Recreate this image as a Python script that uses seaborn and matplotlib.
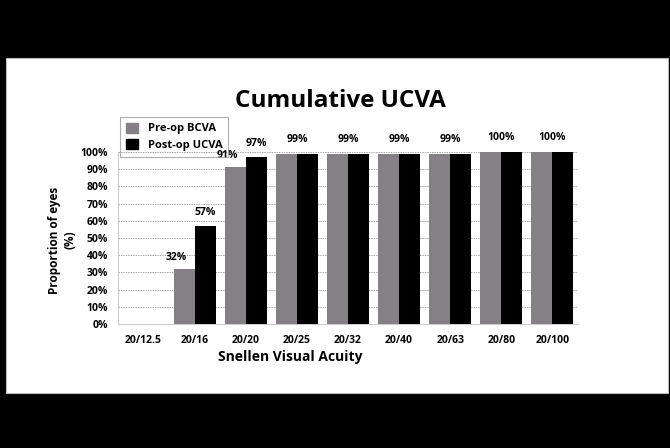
import matplotlib
matplotlib.use("Agg")
import matplotlib.pyplot as plt
from matplotlib.patches import Rectangle, Patch
import seaborn as sns
import pandas as pd

acuity = ["20/12.5", "20/16", "20/20", "20/25", "20/32", "20/40", "20/63", "20/80", "20/100"]
pre_op_bcva = [0, 32, 91, 99, 99, 99, 99, 100, 100]
post_op_ucva = [0, 57, 97, 99, 99, 99, 99, 100, 100]
y_ticks = [0, 10, 20, 30, 40, 50, 60, 70, 80, 90, 100]
series_names = ["Pre-op BCVA", "Post-op UCVA"]
series_colors = ["#858085", "#000000"]

sns.set_style("white")
plt.rcParams["font.family"] = ["Open Sans", "DejaVu Sans"]
plt.rcParams["font.weight"] = "bold"
plt.rcParams["text.color"] = "black"

df = pd.DataFrame({
    "acuity": acuity * 2,
    "value": pre_op_bcva + post_op_ucva,
    "series": [series_names[0]] * len(acuity) + [series_names[1]] * len(acuity),
})

fig = plt.figure(figsize=(6.7, 4.48), dpi=100)
fig.patch.set_facecolor("black")
# white slide panel between the black bands
fig.add_artist(Rectangle((6 / 670, 1 - 393 / 448), 662 / 670, 335 / 448,
                         transform=fig.transFigure, facecolor="white",
                         edgecolor="#bbbbbb", linewidth=0.8, zorder=0))

ax = fig.add_axes([118 / 670, 1 - 324 / 448, 460 / 670, 172 / 448])
ax.set_facecolor("none")
sns.barplot(data=df, x="acuity", y="value", hue="series", order=acuity,
            hue_order=series_names, palette=dict(zip(series_names, series_colors)),
            width=0.82, gap=0, saturation=1, ax=ax, legend=False, zorder=3,
            linewidth=0, edgecolor="none")

ax.set_xlim(-0.5, len(acuity) - 0.5)
ax.set_ylim(0, 100)
ax.set_yticks(y_ticks)
ax.set_yticklabels([f"{t}%" for t in y_ticks])
ax.tick_params(axis="both", labelsize=7.5, length=0, colors="black")
ax.tick_params(axis="x", pad=8)
ax.tick_params(axis="y", pad=7)
for lbl in ax.get_xticklabels() + ax.get_yticklabels():
    lbl.set_fontweight("bold")
ax.yaxis.grid(True, linestyle=(0, (1.5, 1)), color="#a8a8a8", linewidth=0.7, zorder=0)
ax.set_axisbelow(True)
for side in ["top", "right"]:
    ax.spines[side].set_visible(False)
ax.spines["left"].set_color("#cccccc")
ax.spines["bottom"].set_color("#cccccc")
ax.set_xlabel("")
ax.set_ylabel("")

# value labels: one per group when both series agree, otherwise one per bar
bar_w = 0.41
lab_size = 7.5
for i, (a, b) in enumerate(zip(pre_op_bcva, post_op_ucva)):
    if a == 0 and b == 0:
        continue
    if a == b:
        ax.text(i, a + 5, f"{a}%", ha="center", va="bottom", fontsize=lab_size,
                fontweight="bold", clip_on=False, zorder=5)
    else:
        ax.text(i - bar_w / 2 - 0.15, a + 3.5, f"{a}%", ha="center", va="bottom",
                fontsize=lab_size, fontweight="bold", clip_on=False, zorder=5)
        ax.text(i + bar_w / 2, b + 4.5, f"{b}%", ha="center", va="bottom",
                fontsize=lab_size, fontweight="bold", clip_on=False, zorder=5)

fig.text(340 / 670, 1 - 101 / 448, "Cumulative UCVA", ha="center", va="center",
         fontsize=17.5, fontweight="bold", color="black")
fig.text(290 / 670, 1 - 357 / 448, "Snellen Visual Acuity", ha="center",
         va="center", fontsize=10, fontweight="bold", color="black")
fig.text(62 / 670, 1 - 240 / 448, "Proportion of eyes\n(%)", ha="center",
         va="center", rotation=90, fontsize=8.5, fontweight="bold", linespacing=1.2,
         color="black")

# legend box without fill, so the label underneath stays visible
handles = [Patch(facecolor=c, edgecolor=c) for c in series_colors]
leg = fig.legend(handles, series_names, loc="upper left",
                 bbox_to_anchor=(120 / 670, 1 - 117 / 448),
                 bbox_transform=fig.transFigure, frameon=True, fancybox=False,
                 prop={"size": 8, "weight": "bold"}, handlelength=1.1,
                 handleheight=1.0, handletextpad=0.9, borderpad=0.5,
                 labelspacing=0.45, borderaxespad=0)
leg.get_frame().set_edgecolor("#999999")
leg.get_frame().set_facecolor("none")
leg.get_frame().set_linewidth(0.8)
leg.set_zorder(6)

fig.savefig("out.png", dpi=100, facecolor=fig.get_facecolor())
